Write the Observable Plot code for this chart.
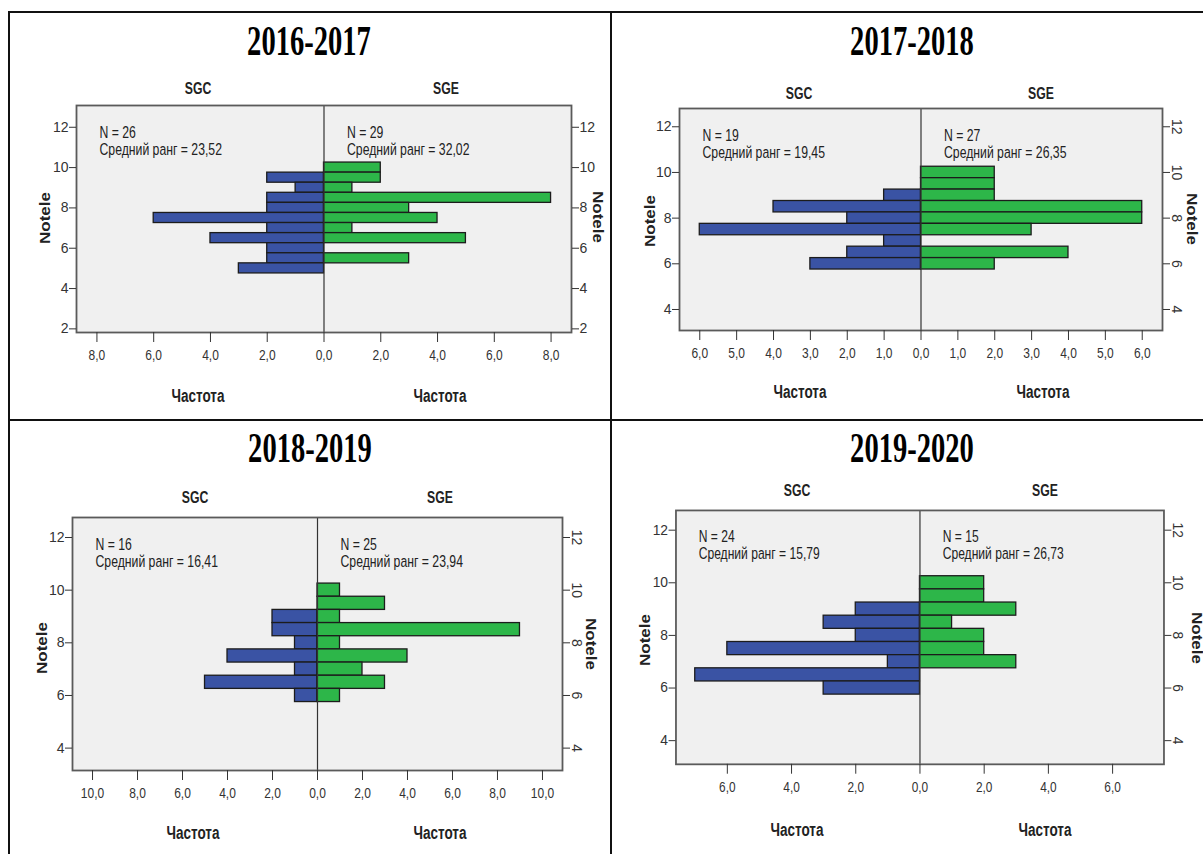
<!DOCTYPE html>
<html><head><meta charset="utf-8">
<script src="https://cdn.jsdelivr.net/npm/d3@7"></script>
<script src="https://cdn.jsdelivr.net/npm/@observablehq/plot@0.6"></script>
<style>
html,body{margin:0;padding:0;background:#fff;overflow:hidden;}
#root{position:relative;width:1203px;height:854px;font-family:"Liberation Sans",Arial,sans-serif;}
.lbl{position:absolute;white-space:nowrap;line-height:1;color:#222;}
.line{position:absolute;background:#111;}
.panel{position:absolute;}
</style></head><body><div id="root"></div><script>
// ---------- data ----------
const years = ["2016-2017", "2017-2018", "2018-2019", "2019-2020"];
const groups = ["SGC", "SGE"];
const bins = [10.0, 9.5, 9.0, 8.5, 8.0, 7.5, 7.0, 6.5, 6.0, 5.5, 5.0];
const sgc2016 = [0, 2, 1, 2, 2, 6, 2, 4, 2, 2, 3];
const sge2016 = [2, 2, 1, 8, 3, 4, 1, 5, 0, 3, 0];
const sgc2017 = [0, 0, 1, 4, 2, 6, 1, 2, 3, 0, 0];
const sge2017 = [2, 2, 2, 6, 6, 3, 0, 4, 2, 0, 0];
const sgc2018 = [0, 0, 2, 2, 1, 4, 1, 5, 1, 0, 0];
const sge2018 = [1, 3, 1, 9, 1, 4, 2, 3, 1, 0, 0];
const sgc2019 = [0, 0, 2, 3, 2, 6, 1, 7, 3, 0, 0];
const sge2019 = [2, 2, 3, 1, 2, 2, 3, 0, 0, 0, 0];
const nSGC = [26, 19, 16, 24];
const nSGE = [29, 27, 25, 15];
const rankSGC = ["23,52", "19,45", "16,41", "15,79"];
const rankSGE = ["32,02", "26,35", "23,94", "26,73"];
const xTicks2016 = [-8, -6, -4, -2, 0, 2, 4, 6, 8];
const xTicks2017 = [-6, -5, -4, -3, -2, -1, 0, 1, 2, 3, 4, 5, 6];
const xTicks2018 = [-10, -8, -6, -4, -2, 0, 2, 4, 6, 8, 10];
const xTicks2019 = [-6, -4, -2, 0, 2, 4, 6];
const yTicks2016 = [2, 4, 6, 8, 10, 12];
const yTicksOther = [4, 6, 8, 10, 12];
const xLabel = "Частота";
const yLabel = "Notele";

const series = [[sgc2016, sge2016], [sgc2017, sge2017], [sgc2018, sge2018], [sgc2019, sge2019]];
const xTicksAll = [xTicks2016, xTicks2017, xTicks2018, xTicks2019];
const yTicksAll = [yTicks2016, yTicksOther, yTicksOther, yTicksOther];

// ---------- layout (pixels) ----------
const layout = [
  {L:76, R:571, T:105, B:332, xd:8.72, yd:[1.82,13.08], rot:false, title:[309,41], gY:88, gX:[198,446], chX:[198,440], chY:395.5, nl:[45,218], nr:[598,217]},
  {L:679, R:1162, T:108, B:330, xd:6.55, yd:[3.08,12.8], rot:true, title:[912,41], gY:93, gX:[799,1041], chX:[800,1043], chY:391.7, nl:[650,221], nr:[1192,219]},
  {L:72, R:562, T:517, B:770, xd:10.89, yd:[3.15,12.76], rot:true, title:[310,448], gY:497, gX:[195,440], chX:[193,440], chY:833, nl:[42,648], nr:[591,644]},
  {L:676, R:1170, T:510, B:767, xd:7.6, yd:[3.1,12.75], rot:true, title:[912,448], gY:490, gX:[797,1045], chX:[797,1045], chY:830, nl:[645,640], nr:[1197,638]}
];
const BLUE = "#3a53a4", GREEN = "#2db649";
const root = document.getElementById("root");

function line(x, y, w, h) {
  const d = document.createElement("div");
  d.className = "line";
  Object.assign(d.style, {left: x + "px", top: y + "px", width: w + "px", height: h + "px"});
  root.appendChild(d);
}
function label(text, x, y, css, transform) {
  const d = document.createElement("div");
  d.className = "lbl";
  d.textContent = text;
  Object.assign(d.style, css, {left: x + "px", top: y + "px", transform: "translate(-50%,-50%) " + transform});
  root.appendChild(d);
}
function squeezeEl(t, k) {
  const b = t.getBBox();
  const anchor = getComputedStyle(t).textAnchor;
  const ax = anchor === "end" ? b.x + b.width : anchor === "middle" ? b.x + b.width / 2 : b.x;
  const prev = t.getAttribute("transform") || "";
  t.setAttribute("transform", `${prev} translate(${ax},0) scale(${k},1) translate(${-ax},0)`);
}
const fmt = d => Math.abs(d).toFixed(1).replace(".", ",");

// frame lines of the table
line(9, 11, 1194, 2);
line(8, 11, 2, 843);
line(610, 11, 2, 843);
line(9, 419, 1194, 2);

layout.forEach((p, i) => {
  const rows = [];
  bins.forEach((b, j) => {
    groups.forEach((g, gi) => {
      const c = series[i][gi][j];
      if (c > 0) rows.push({g, b, c: gi === 0 ? -c : c});
    });
  });
  const ml = 45, mr = 40, mt = 4, mb = 70;
  const yt = yTicksAll[i];
  const marks = [
    Plot.frame({fill: "#f0f0f0", stroke: "none"}),
    Plot.rect(rows, {x1: d => 0, x2: d => d.c, y1: d => d.b - 0.25, y2: d => d.b + 0.25,
      fill: d => d.g === "SGC" ? BLUE : GREEN, stroke: "#1c1c1c", strokeWidth: 1.3}),
    Plot.ruleX([0], {stroke: "#333", strokeWidth: 1.2}),
    Plot.frame({stroke: "#5a5a5a", strokeWidth: 1.8}),
    Plot.axisY(yt, {anchor: "left", tickSize: 7, tickPadding: 1, fontSize: 14, label: null, color: "#333", tickFormat: d => d}),
    Plot.axisX(xTicksAll[i], {anchor: "bottom", tickSize: 10, tickPadding: 7, fontSize: 15, label: null, color: "#333", tickFormat: fmt}),
    Plot.text([`N = ${nSGC[i]}\nСредний ранг = ${rankSGC[i]}`], {frameAnchor: "top-left", dx: 23, dy: 20, textAnchor: "start", lineAnchor: "top", fontSize: 17, lineHeight: 1.0, fill: "#222"}),
    Plot.text([`N = ${nSGE[i]}\nСредний ранг = ${rankSGE[i]}`], {x: d => 0, frameAnchor: "top", dx: 23, dy: 20, textAnchor: "start", lineAnchor: "top", fontSize: 17, lineHeight: 1.0, fill: "#222"})
  ];
  if (p.rot) {
    marks.push(Plot.axisY(yt, {anchor: "right", tickSize: 7, label: null, color: "#333", tickFormat: () => ""}));
    marks.push(Plot.text(yt, {y: d => d, text: d => String(d), frameAnchor: "right", dx: 14, rotate: 90, textAnchor: "middle", fontSize: 14, fill: "#333"}));
  } else {
    marks.push(Plot.axisY(yt, {anchor: "right", tickSize: 7, tickPadding: 1, fontSize: 14, label: null, color: "#333", tickFormat: d => d}));
  }
  const chart = Plot.plot({
    width: p.R - p.L + ml + mr,
    height: p.B - p.T + mt + mb,
    marginLeft: ml, marginRight: mr, marginTop: mt, marginBottom: mb,
    style: {background: "transparent", fontFamily: "Liberation Sans, Arial, sans-serif", fontSize: "14px", color: "#333", overflow: "visible"},
    x: {domain: [-p.xd, p.xd]},
    y: {domain: p.yd},
    marks
  });
  const wrap = document.createElement("div");
  wrap.className = "panel";
  wrap.style.left = (p.L - ml) + "px";
  wrap.style.top = (p.T - mt) + "px";
  wrap.appendChild(chart);
  root.appendChild(wrap);
  chart.querySelectorAll('g[aria-label="x-axis tick label"] text').forEach(t => squeezeEl(t, 0.8));
  chart.querySelectorAll("text").forEach(t => {
    if (t.textContent.includes("ранг")) squeezeEl(t, 0.72);
  });

  // titles and axis labels
  label(years[i], p.title[0], p.title[1], {fontFamily: '"Liberation Serif","Times New Roman",serif', fontWeight: "bold", fontSize: "42px", color: "#000"}, "scaleX(0.68)");
  groups.forEach((g, gi) => {
    label(g, p.gX[gi], p.gY, {fontWeight: "bold", fontSize: "17px"}, "scaleX(0.72)");
    label(xLabel, p.chX[gi], p.chY, {fontWeight: "bold", fontSize: "18px"}, "scaleX(0.75)");
  });
  label(yLabel, p.nl[0], p.nl[1], {fontWeight: "bold", fontSize: "17px"}, "rotate(-90deg) scaleY(0.85)");
  label(yLabel, p.nr[0], p.nr[1], {fontWeight: "bold", fontSize: "17px"}, "rotate(90deg) scaleY(0.85)");
});
</script></body></html>
